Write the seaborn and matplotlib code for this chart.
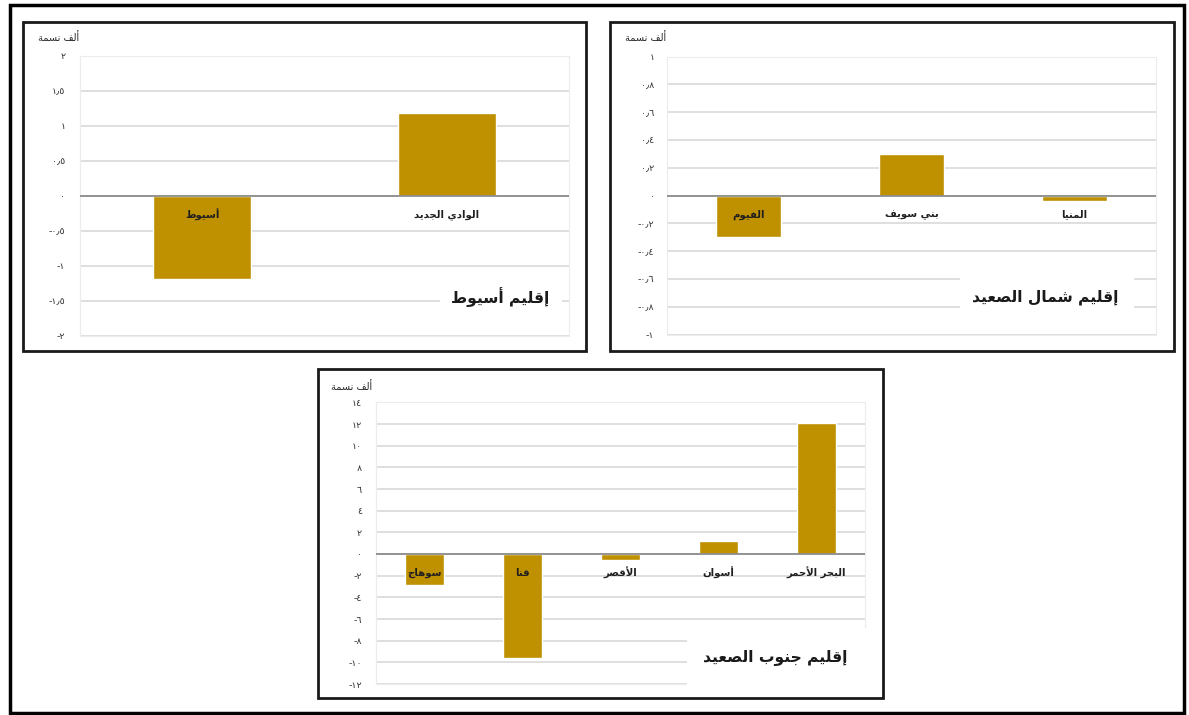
import matplotlib
matplotlib.use("Agg")
import matplotlib.pyplot as plt
from matplotlib.patches import Rectangle
import seaborn as sns

# ---------------- data ----------------
UNIT_LABEL = "ألف نسمة"

ASSIUT_TITLE = "إقليم أسيوط"
ASSIUT_CATS = ["أسيوط", "الوادي الجديد"]
ASSIUT_VALS = [-1.19, 1.18]
ASSIUT_TICKS = [-2, -1.5, -1, -0.5, 0, 0.5, 1, 1.5, 2]

NORTH_TITLE = "إقليم شمال الصعيد"
NORTH_CATS = ["الفيوم", "بني سويف", "المنيا"]
NORTH_VALS = [-0.30, 0.30, -0.04]
NORTH_TICKS = [-1, -0.8, -0.6, -0.4, -0.2, 0, 0.2, 0.4, 0.6, 0.8, 1]

SOUTH_TITLE = "إقليم جنوب الصعيد"
SOUTH_CATS = ["سوهاج", "قنا", "الأقصر", "أسوان", "البحر الأحمر"]
SOUTH_VALS = [-2.9, -9.6, -0.55, 1.2, 12.1]
SOUTH_TICKS = [-12, -10, -8, -6, -4, -2, 0, 2, 4, 6, 8, 10, 12, 14]

# ---------------- Arabic shaping (presentation forms + RTL order) ----------------
FORMS = {
    "ا": ("\uFE8D", "\uFE8E"), "أ": ("\uFE83", "\uFE84"), "إ": ("\uFE87", "\uFE88"),
    "د": ("\uFEA9", "\uFEAA"), "ر": ("\uFEAD", "\uFEAE"), "و": ("\uFEED", "\uFEEE"),
    "ة": ("\uFE93", "\uFE94"),
    "ب": ("\uFE8F", "\uFE90", "\uFE91", "\uFE92"), "ت": ("\uFE95", "\uFE96", "\uFE97", "\uFE98"),
    "ج": ("\uFE9D", "\uFE9E", "\uFE9F", "\uFEA0"), "ح": ("\uFEA1", "\uFEA2", "\uFEA3", "\uFEA4"),
    "س": ("\uFEB1", "\uFEB2", "\uFEB3", "\uFEB4"), "ش": ("\uFEB5", "\uFEB6", "\uFEB7", "\uFEB8"),
    "ص": ("\uFEB9", "\uFEBA", "\uFEBB", "\uFEBC"), "ط": ("\uFEC1", "\uFEC2", "\uFEC3", "\uFEC4"),
    "ع": ("\uFEC9", "\uFECA", "\uFECB", "\uFECC"), "ف": ("\uFED1", "\uFED2", "\uFED3", "\uFED4"),
    "ق": ("\uFED5", "\uFED6", "\uFED7", "\uFED8"), "ل": ("\uFEDD", "\uFEDE", "\uFEDF", "\uFEE0"),
    "م": ("\uFEE1", "\uFEE2", "\uFEE3", "\uFEE4"), "ن": ("\uFEE5", "\uFEE6", "\uFEE7", "\uFEE8"),
    "ه": ("\uFEE9", "\uFEEA", "\uFEEB", "\uFEEC"), "ي": ("\uFEF1", "\uFEF2", "\uFEF3", "\uFEF4"),
}
LAMALEF = {"ا": ("\uFEFB", "\uFEFC"), "أ": ("\uFEF7", "\uFEF8"), "إ": ("\uFEF9", "\uFEFA")}


def shape(s):
    toks = []
    i = 0
    while i < len(s):
        c = s[i]
        if c == "ل" and i + 1 < len(s) and s[i + 1] in LAMALEF:
            toks.append(("LA", s[i + 1]))
            i += 2
        else:
            toks.append(c)
            i += 1

    def is_ar(t):
        return isinstance(t, tuple) or t in FORMS

    def dual(t):
        return (not isinstance(t, tuple)) and t in FORMS and len(FORMS[t]) == 4

    out = []
    for k, t in enumerate(toks):
        prev = toks[k - 1] if k > 0 else None
        nxt = toks[k + 1] if k + 1 < len(toks) else None
        jp = prev is not None and dual(prev) and is_ar(t)
        if isinstance(t, tuple):
            f = LAMALEF[t[1]]
            out.append(f[1] if jp else f[0])
            continue
        if t not in FORMS:
            out.append(t)
            continue
        f = FORMS[t]
        jn = dual(t) and nxt is not None and is_ar(nxt)
        if len(f) == 2:
            out.append(f[1] if jp else f[0])
        else:
            if jp and jn:
                out.append(f[3])
            elif jp:
                out.append(f[1])
            elif jn:
                out.append(f[2])
            else:
                out.append(f[0])
    return "".join(out)[::-1]


AR_DIGITS = str.maketrans("0123456789.", "٠١٢٣٤٥٦٧٨٩٫")


def ar_num(v):
    txt = f"{abs(v):g}".translate(AR_DIGITS)
    return ("-" + txt) if v < 0 else txt


# ---------------- style ----------------
sns.set_style("white")
plt.rcParams["font.family"] = ["DejaVu Sans"]

BAR = "#BF9000"
GRID = "#D9D9D9"
ZERO = "#8C8C8C"
TXT = "#333333"

W, H = 1189, 715
fig = plt.figure(figsize=(W / 100, H / 100), dpi=100)
fig.patch.set_facecolor("white")


def fx(x):
    return x / W


def fy(y):
    return 1 - y / H


def frame(x0, y0, x1, y1, lw, color="#1A1A1A", fill=False, z=1):
    fig.add_artist(Rectangle((fx(x0), fy(y1)), fx(x1) - fx(x0), fy(y0) - fy(y1),
                             transform=fig.transFigure, fill=fill,
                             facecolor="white" if fill else "none",
                             edgecolor="none" if fill else color, lw=lw, zorder=z))


def panel(rect_px, cats, vals, ticks, title, title_xy, title_box, unit_xy, tick_pad):
    x0, y0, x1, y1 = rect_px
    ax = fig.add_axes([fx(x0), fy(y1), fx(x1) - fx(x0), fy(y0) - fy(y1)])
    sns.barplot(x=cats, y=vals, order=cats, color=BAR, saturation=1, width=0.4,
                ax=ax, zorder=3)
    ax.set_xlim(-0.5, len(cats) - 0.5)
    ax.set_ylim(ticks[0], ticks[-1])
    ax.set_yticks(ticks)
    ax.set_yticklabels([ar_num(t) for t in ticks])
    ax.tick_params(axis="y", length=0, pad=tick_pad, labelsize=6.8, labelcolor=TXT)
    ax.tick_params(axis="x", length=0, labelbottom=False)
    ax.set_xlabel("")
    ax.set_ylabel("")
    ax.yaxis.grid(True, color=GRID, lw=1.2, zorder=0)
    ax.set_axisbelow(True)
    for s in ax.spines.values():
        s.set_color("#ECECEC")
        s.set_linewidth(0.8)
    ax.axhline(0, color=ZERO, lw=1.3, zorder=4)
    for i, c in enumerate(cats):
        ax.annotate(shape(c), xy=(i, 0), xytext=(0, -19), textcoords="offset pixels",
                    ha="center", va="center", fontsize=7.3, fontweight="bold",
                    color="#1F1F1F", zorder=5)
    # title with white background
    bx0, by0, bx1, by1 = title_box
    frame(bx0, by0, bx1, by1, 0, fill=True, z=2)
    fig.text(fx(title_xy[0]), fy(title_xy[1]), shape(title), ha="center", va="center",
             fontsize=11.2, fontweight="bold", color="#1A1A1A", zorder=3)
    fig.text(fx(unit_xy[0]), fy(unit_xy[1]), shape(UNIT_LABEL), ha="center", va="center",
             fontsize=7, color="#262626", zorder=3)
    return ax


# outer border and panel frames
frame(9.5, 5, 1184, 713, 2.5, color="#000000")
frame(22.7, 22.3, 586, 351, 2.0)
frame(610, 22.3, 1174, 351, 2.0)
frame(318.3, 369, 883.3, 697.5, 2.0)

panel((80, 55.7, 569, 335.7), ASSIUT_CATS, ASSIUT_VALS, ASSIUT_TICKS,
      ASSIUT_TITLE, (500, 297), (440, 276, 562, 319), (59, 38), 10.5)
panel((667, 56.5, 1156, 334.7), NORTH_CATS, NORTH_VALS, NORTH_TICKS,
      NORTH_TITLE, (1045, 297), (960, 264, 1134, 320), (646, 38), 9)
panel((376, 402.4, 865, 684), SOUTH_CATS, SOUTH_VALS, SOUTH_TICKS,
      SOUTH_TITLE, (775, 657), (687, 628, 866, 691), (352, 387), 10)

fig.savefig("out.png", dpi=100, facecolor="white")
